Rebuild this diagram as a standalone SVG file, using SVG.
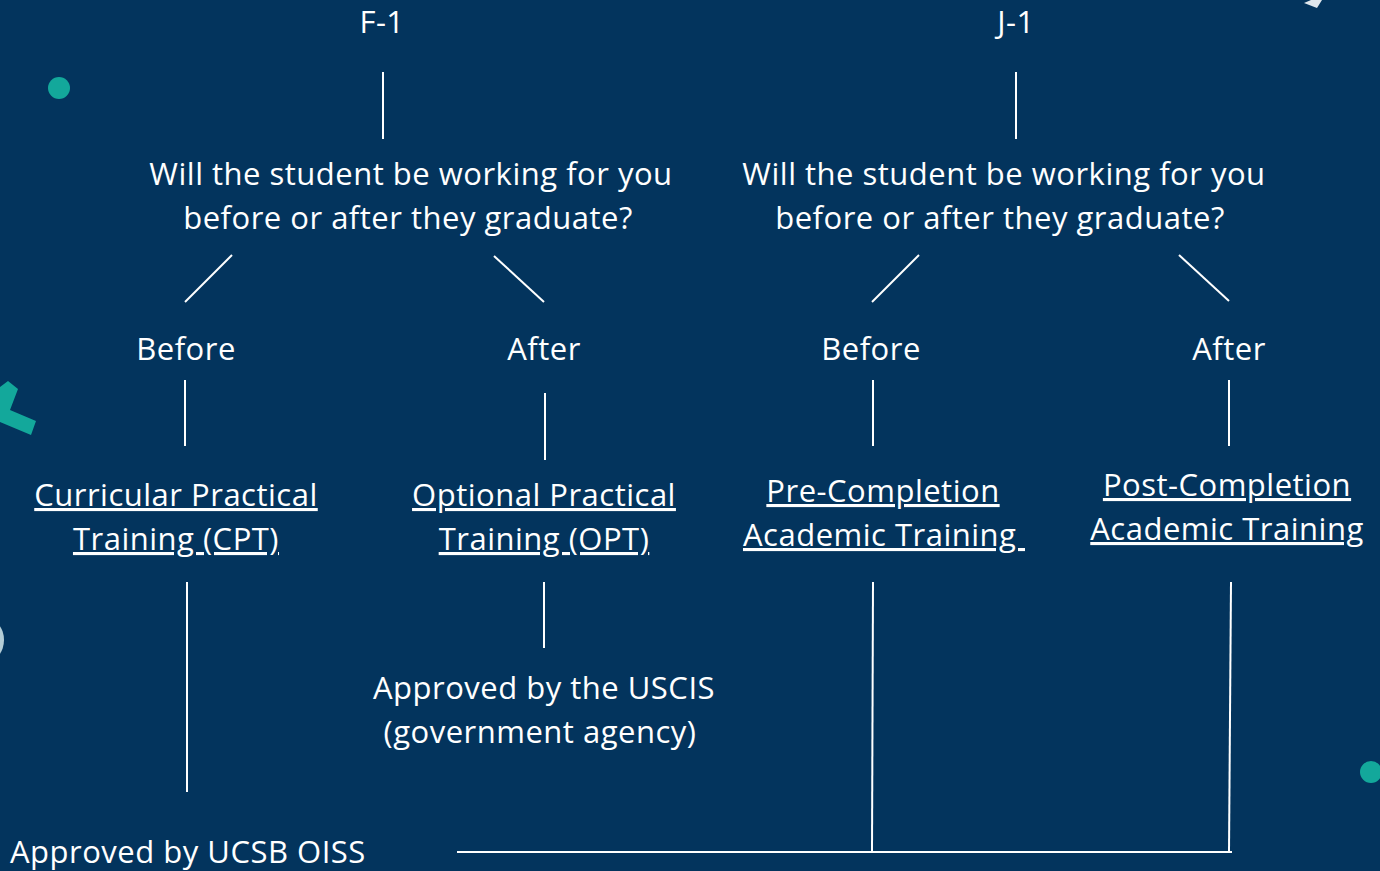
<svg xmlns="http://www.w3.org/2000/svg" width="1380" height="871" viewBox="0 0 1380 871">
<style>
.t{font-family:"Open Sans","Liberation Sans",sans-serif;font-size:31px;letter-spacing:0.5px;fill:#ffffff;text-anchor:middle}
.u{text-decoration:underline}
.c line{stroke:#ffffff;stroke-width:2}
</style>
<rect width="1380" height="871" fill="#03345d"/>
<g id="decor">
<circle cx="59" cy="88" r="11" fill="#13a89b"/>
<circle cx="1371" cy="772" r="11" fill="#13a89b"/>
<polygon points="1304,3 1311,0 1322,0 1317,8" fill="#dfe6ec"/>
<ellipse cx="-14" cy="640" rx="18" ry="22" fill="#b4cdd6"/>
<path d="M0,387 L8,381 L18,389 L10,410 L36,421 L31,435 L0,422 Z" fill="#13a89b"/>
</g>
<g class="c" id="connectors">
<line x1="383" y1="72" x2="383" y2="139"/>
<line x1="1016" y1="72" x2="1016" y2="139"/>
<line x1="232" y1="255" x2="185" y2="302"/>
<line x1="494" y1="256" x2="544" y2="302"/>
<line x1="919" y1="255" x2="872" y2="302"/>
<line x1="1179" y1="255" x2="1229" y2="301"/>
<line x1="185" y1="380" x2="185" y2="446"/>
<line x1="545" y1="393" x2="545" y2="460"/>
<line x1="873" y1="380" x2="873" y2="446"/>
<line x1="1229" y1="380" x2="1229" y2="446"/>
<line x1="187" y1="582" x2="187" y2="792"/>
<line x1="544" y1="582" x2="544" y2="648"/>
<line x1="873" y1="582" x2="872" y2="852"/>
<line x1="1231" y1="582" x2="1229" y2="852"/>
<line x1="457" y1="852" x2="1232" y2="852"/>
</g>
<g id="f1"><text class="t" x="382" y="33">F-1</text></g>
<g id="j1"><text class="t" x="1016" y="33">J-1</text></g>
<g id="q-f1"><text class="t" x="411" y="185">Will the student be working for you</text><text class="t" x="408" y="229">before or after they graduate?</text></g>
<g id="q-j1"><text class="t" x="1004" y="185">Will the student be working for you</text><text class="t" x="1000" y="229">before or after they graduate?</text></g>
<g id="f1-before"><text class="t" x="186" y="360">Before</text></g>
<g id="f1-after"><text class="t" x="544" y="360">After</text></g>
<g id="j1-before"><text class="t" x="871" y="360">Before</text></g>
<g id="j1-after"><text class="t" x="1229" y="360">After</text></g>
<g id="cpt"><text class="t u" x="176" y="506">Curricular Practical</text><text class="t u" x="176" y="550">Training (CPT)</text></g>
<g id="opt"><text class="t u" x="544" y="506">Optional Practical</text><text class="t u" x="544" y="550">Training (OPT)</text></g>
<g id="pre"><text class="t u" x="883" y="502">Pre-Completion</text><text class="t u" x="884" y="546" xml:space="preserve">Academic Training </text></g>
<g id="post"><text class="t u" x="1227" y="496">Post-Completion</text><text class="t u" x="1227" y="540">Academic Training</text></g>
<g id="uscis"><text class="t" x="544" y="699">Approved by the USCIS</text><text class="t" x="540" y="743">(government agency)</text></g>
<g id="oiss"><text class="t" x="10" y="863" style="text-anchor:start">Approved by UCSB OISS</text></g>
</svg>
